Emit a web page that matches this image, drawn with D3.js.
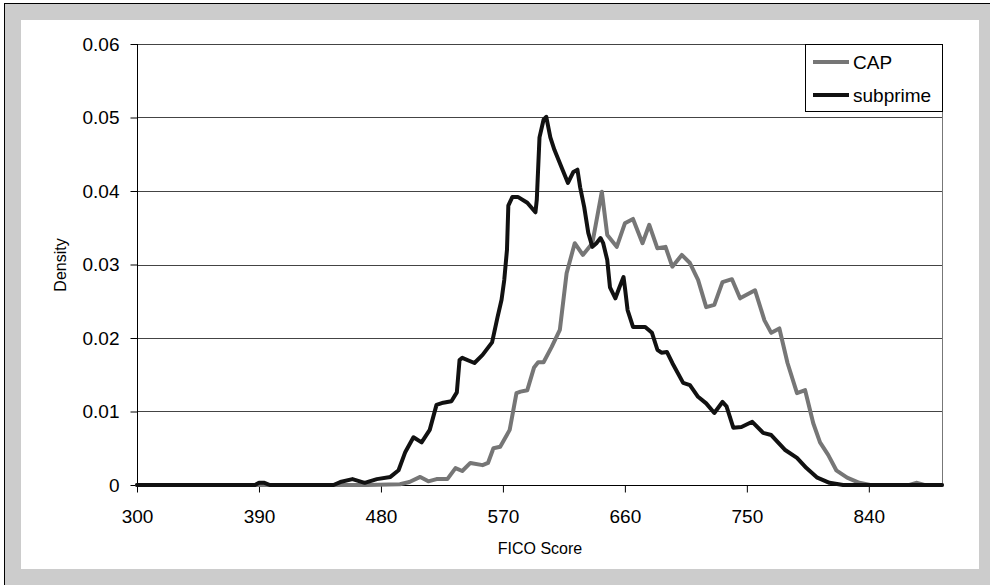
<!DOCTYPE html>
<html lang="en">
<head>
    <meta charset="UTF-8">
    <title>FICO Score Density</title>
    <style>
        body { margin: 0; background: #fff; }
        text { font-family: "Liberation Sans", Arial, sans-serif; fill: #000; }
        .grid line { stroke: #444; stroke-width: 1px; }
        .series { fill: none; stroke-width: 4px; stroke-linejoin: round; stroke-linecap: round; }
    </style>
</head>
<body>
    <svg width="990" height="585"></svg>

    <script src="https://d3js.org/d3.v7.min.js"></script>
    <script>
        // values
        var capScore = [300, 470, 494, 501, 509, 515, 521, 529, 535, 540, 546, 555, 559, 563, 568, 575, 580, 583, 588,
            593, 596, 600, 606, 612, 617, 623, 629, 636, 643, 647, 654, 660, 666, 673, 678, 684, 690, 695, 702, 708,
            714, 720, 726, 732, 739, 745, 756, 763, 768, 774, 780, 787, 793, 799, 804, 810, 816, 824, 833, 841, 870,
            875, 881, 894];
        var capDensity = [0, 0, 0.0001, 0.0004, 0.0011, 0.0005, 0.0008, 0.0008, 0.0023, 0.0019, 0.0030, 0.0027, 0.0030,
            0.0050, 0.0052, 0.0075, 0.0125, 0.0127, 0.0129, 0.0160, 0.0167, 0.0167, 0.0188, 0.0211, 0.0288, 0.0329,
            0.0313, 0.0329, 0.0399, 0.0340, 0.0324, 0.0356, 0.0362, 0.0329, 0.0354, 0.0322, 0.0324, 0.0297, 0.0313,
            0.0302, 0.0279, 0.0242, 0.0245, 0.0276, 0.0280, 0.0254, 0.0265, 0.0224, 0.0207, 0.0213, 0.0166, 0.0125,
            0.0129, 0.0084, 0.0058, 0.0041, 0.0020, 0.0010, 0.0003, 0, 0, 0.0003, 0, 0];

        var subScore = [300, 387, 390, 394, 398, 445, 450, 459, 468, 477, 487, 493, 498, 504, 510, 516, 521, 526, 532,
            536, 538, 540, 549, 555, 562, 566, 569, 571, 573, 574, 577, 581, 588, 594, 595, 597, 600, 602, 605, 608,
            614, 618, 622, 625, 627, 630, 633, 636, 639, 642, 644, 647, 649, 653, 656, 659, 660, 662, 666, 675, 680,
            684, 687, 691, 695, 703, 708, 714, 720, 726, 732, 735, 740, 746, 754, 762, 768, 778, 787, 794, 802, 811,
            821, 894];
        var subDensity = [0, 0, 0.0003, 0.0003, 0, 0, 0.0004, 0.0008, 0.0003, 0.0008, 0.0011, 0.0020, 0.0045, 0.0065,
            0.0058, 0.0075, 0.0109, 0.0112, 0.0114, 0.0126, 0.0170, 0.0173, 0.0166, 0.0177, 0.0194, 0.0228, 0.0252,
            0.0279, 0.0320, 0.0380, 0.0392, 0.0392, 0.0384, 0.0371, 0.0388, 0.0473, 0.0497, 0.0501, 0.0473, 0.0456,
            0.0429, 0.0411, 0.0426, 0.0429, 0.0405, 0.0378, 0.0343, 0.0324, 0.0329, 0.0336, 0.0329, 0.0306, 0.0269,
            0.0254, 0.0269, 0.0283, 0.0269, 0.0238, 0.0215, 0.0215, 0.0207, 0.0184, 0.0180, 0.0181, 0.0166, 0.0139,
            0.0136, 0.0120, 0.0111, 0.0098, 0.0113, 0.0107, 0.0078, 0.0079, 0.0086, 0.0071, 0.0068, 0.0048, 0.0037,
            0.0023, 0.0010, 0.0003, 0, 0];

        var xTicks = [300, 390, 480, 570, 660, 750, 840];
        var yTicks = [0, 0.01, 0.02, 0.03, 0.04, 0.05, 0.06];

        var series = [
            {name: "CAP", x: capScore, y: capDensity, color: "#767676"},
            {name: "subprime", x: subScore, y: subDensity, color: "#111"}
        ];

        var svg = d3.select("svg");

        // grey frame with white inner panel
        svg.append("rect").attr("x", 0).attr("y", 0).attr("width", 990).attr("height", 585).attr("fill", "#fff");
        svg.append("rect").attr("x", 4.5).attr("y", 3.5).attr("width", 990).attr("height", 590)
            .attr("fill", "#cccccc").attr("stroke", "#000").attr("stroke-width", 1);
        svg.append("rect").attr("x", 21).attr("y", 20).attr("width", 958).attr("height", 549).attr("fill", "#fff");

        var x = d3.scaleLinear().domain([300, 894]).range([137, 942]);
        var y = d3.scaleLinear().domain([0, 0.06]).range([485, 44]);

        // horizontal gridlines
        svg.append("g").attr("class", "grid")
            .selectAll("line")
            .data(yTicks.slice(1))
            .enter().append("line")
            .attr("x1", x(300)).attr("x2", x(894))
            .attr("y1", function(d) { return Math.round(y(d)) + 0.5; })
            .attr("y2", function(d) { return Math.round(y(d)) + 0.5; });

        // right border of the plot area
        svg.append("line")
            .attr("x1", x(894) + 0.5).attr("x2", x(894) + 0.5)
            .attr("y1", y(0.06)).attr("y2", y(0))
            .attr("stroke", "#777").attr("stroke-width", 1);

        var yAxis = svg.append("g")
            .attr("transform", "translate(" + (x(300) + 0.5) + ",0)")
            .call(d3.axisLeft(y).tickValues(yTicks).tickSize(7).tickPadding(11)
                .tickFormat(function(d) { return d === 0 ? "0" : d3.format(".2f")(d); }));

        var xAxis = svg.append("g")
            .attr("transform", "translate(0," + (y(0) + 0.5) + ")")
            .call(d3.axisBottom(x).tickValues(xTicks).tickSize(7).tickPadding(17).tickFormat(d3.format("d")));

        [yAxis, xAxis].forEach(function(a) {
            a.select(".domain").attr("stroke", "#000");
            a.selectAll(".tick line").attr("stroke", "#000");
            a.selectAll("text").style("font-size", "19px").attr("fill", "#000");
        });
        xAxis.select(".domain").attr("d", "M" + x(300) + ",0H" + x(894));
        yAxis.select(".domain").attr("d", "M0," + y(0.06) + "V" + y(0));

        var line = d3.line()
            .x(function(d) { return x(d[0]); })
            .y(function(d) { return y(d[1]); });

        svg.append("g")
            .selectAll("path")
            .data(series)
            .enter().append("path")
            .attr("class", "series")
            .attr("stroke", function(d) { return d.color; })
            .attr("d", function(d) { return line(d3.zip(d.x, d.y)); });

        // axis titles
        svg.append("text")
            .attr("x", 540).attr("y", 554)
            .attr("text-anchor", "middle")
            .style("font-size", "16px")
            .text("FICO Score");

        svg.append("text")
            .attr("transform", "translate(66,265) rotate(-90)")
            .attr("text-anchor", "middle")
            .style("font-size", "16px")
            .text("Density");

        // legend
        var legend = svg.append("g").attr("transform", "translate(805,44)");
        legend.append("rect")
            .attr("x", 0.5).attr("y", 0.5).attr("width", 137).attr("height", 67)
            .attr("fill", "#fff").attr("stroke", "#000").attr("stroke-width", 1);

        var item = legend.selectAll("g.item")
            .data(series)
            .enter().append("g")
            .attr("class", "item")
            .attr("transform", function(d, i) { return "translate(0," + (18 + i * 33) + ")"; });

        item.append("line")
            .attr("x1", 8).attr("x2", 44)
            .attr("stroke", function(d) { return d.color; })
            .attr("stroke-width", 4);

        item.append("text")
            .attr("x", 48).attr("dy", "0.35em")
            .style("font-size", "19px")
            .text(function(d) { return d.name; });
    </script>
</body>
</html>
